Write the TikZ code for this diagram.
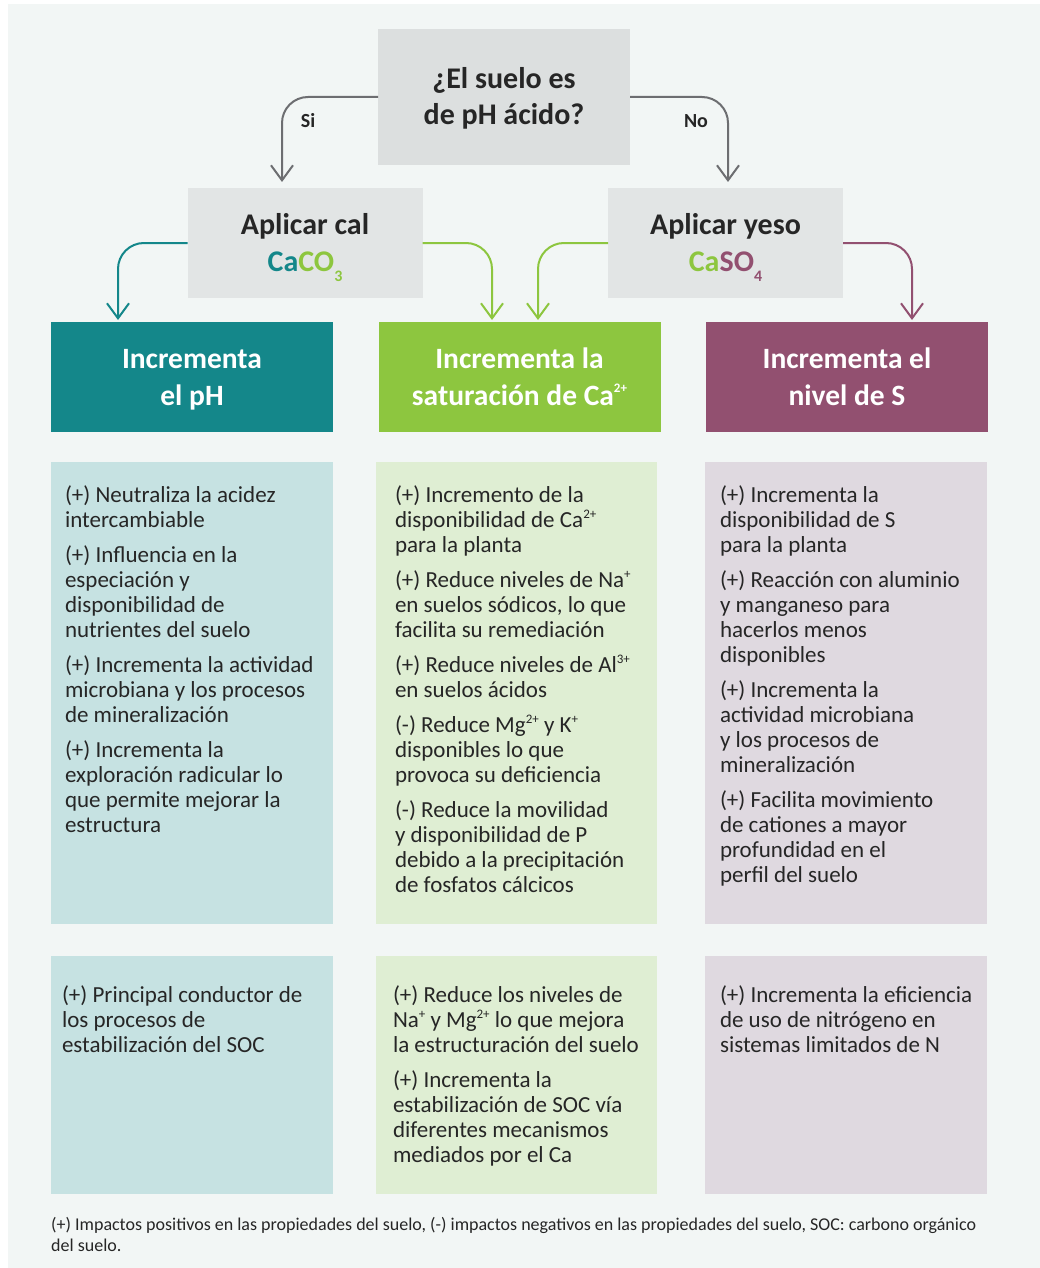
\documentclass[tikz,border=0pt]{standalone}
\usepackage{fontspec}
\setmainfont{Carlito}
\usetikzlibrary{arrows.meta}

\definecolor{pagebg}{HTML}{F2F6F5}
\definecolor{qgray}{HTML}{DCDFDF}
\definecolor{agray}{HTML}{E2E5E5}
\definecolor{tealc}{HTML}{14878A}
\definecolor{greenc}{HTML}{8DC63F}
\definecolor{purplec}{HTML}{925070}
\definecolor{tealL}{HTML}{C6E2E2}
\definecolor{greenL}{HTML}{DFEED3}
\definecolor{purpleL}{HTML}{DFD9E0}
\definecolor{inkc}{HTML}{262626}
\definecolor{arrowgray}{HTML}{6D6E71}

\newcommand{\sps}[1]{\raisebox{0.42em}{\fontsize{13}{13}\selectfont #1}}
\newcommand{\sbs}[1]{\raisebox{-10pt}{\fontsize{16}{16}\selectfont #1}}

\begin{document}
\begin{tikzpicture}[x=1pt,y=-1pt,
  boxbase/.style={rectangle, inner sep=0pt, outer sep=0pt},
  qbox/.style={boxbase, fill=qgray, minimum width=252pt, minimum height=136pt,
    text=inkc, align=center, font=\bfseries\fontsize{30}{36}\selectfont,
    text height=58.5pt, text depth=2.5pt},
  abox/.style={boxbase, fill=agray, minimum width=235pt, minimum height=110pt,
    text=inkc, align=center, font=\bfseries\fontsize{30}{37}\selectfont,
    text height=66pt, text depth=10pt},
  hbox/.style={boxbase, minimum width=282pt, minimum height=110pt,
    text=white, align=center, font=\bfseries\fontsize{29.5}{37}\selectfont,
    text height=62pt, text depth=6pt},
  panel/.style={boxbase, minimum width=282pt},
  itemtext/.style={inner sep=0pt, outer sep=0pt, anchor=north west, align=left,
    text=inkc, font=\fontsize{23}{25}\selectfont},
  flow/.style={line width=2pt, rounded corners=26pt,
    -{Straight Barb[length=15pt, width=22pt, line width=2pt]}},
  branch/.style={text=inkc, font=\bfseries\fontsize{20}{24}\selectfont, inner sep=0pt}
]
\useasboundingbox (0,0) rectangle (1040,1268);
\fill[pagebg] (8,4) rectangle (1040,1268);

% decision and treatments
\node[qbox] (q) at (504,97) {¿El suelo es\\de pH ácido?};
\node[abox] (cal) at (305,243) {Aplicar cal\\{\color{tealc}Ca}{\color{greenc}CO\sbs{3}}};
\node[abox] (yeso) at (725.5,243) {Aplicar yeso\\{\color{greenc}Ca}{\color{purplec}SO\sbs{4}}};

% effect headers
\node[hbox, fill=tealc] (h1) at (192,377) {Incrementa\\el pH};
\node[hbox, fill=greenc] (h2) at (519.5,377) {Incrementa la\\saturación de Ca\sps{2+}};
\node[hbox, fill=purplec] (h3) at (847,377) {Incrementa el\\nivel de S};

% detail panels
\node[panel, fill=tealL, minimum height=462pt] (b1) at (192,693) {};
\node[panel, fill=greenL, minimum height=462pt, minimum width=281pt] (b2) at (516.5,693) {};
\node[panel, fill=purpleL, minimum height=462pt] (b3) at (846,693) {};
\node[panel, fill=tealL, minimum height=238pt] (c1) at (192,1075) {};
\node[panel, fill=greenL, minimum height=238pt, minimum width=281pt] (c2) at (516.5,1075) {};
\node[panel, fill=purpleL, minimum height=238pt] (c3) at (846,1075) {};

% connectors
\draw[flow, arrowgray] (q.west) -| ([xshift=-23pt,yshift=6pt]cal.north);
\draw[flow, arrowgray] (q.east) -| ([xshift=2.5pt,yshift=6pt]yeso.north);
\draw[flow, tealc] (cal.west) -| ([xshift=-74pt,yshift=2pt]h1.north);
\draw[flow, greenc] (cal.east) -| ([xshift=-27.5pt,yshift=2pt]h2.north);
\draw[flow, greenc] (yeso.west) -| ([xshift=18.5pt,yshift=2pt]h2.north);
\draw[flow, purplec] (yeso.east) -| ([xshift=65pt,yshift=2pt]h3.north);

\node[branch] (si) at (308,121) {Si};
\node[branch] (no) at (696,121) {No};

% panel texts
\node[itemtext] (t1) at ([xshift=14pt,yshift=-24pt]b1.north west) {%
(+) Neutraliza la acidez\\ intercambiable\\[10pt]
(+) Influencia en la\\ especiación y\\ disponibilidad de\\ nutrientes del suelo\\[10pt]
(+) Incrementa la actividad\\ microbiana y los procesos\\ de mineralización\\[10pt]
(+) Incrementa la\\ exploración radicular lo\\ que permite mejorar la\\ estructura};

\node[itemtext] (t2) at ([xshift=19pt,yshift=-24pt]b2.north west) {%
(+) Incremento de la\\ disponibilidad de Ca\sps{2+}\\ para la planta\\[10pt]
(+) Reduce niveles de Na\sps{+}\\ en suelos sódicos, lo que\\ facilita su remediación\\[10pt]
(+) Reduce niveles de Al\sps{3+}\\ en suelos ácidos\\[10pt]
(-) Reduce Mg\sps{2+} y K\sps{+}\\ disponibles lo que\\ provoca su deficiencia\\[10pt]
(-) Reduce la movilidad\\ y disponibilidad de P\\ debido a la precipitación\\ de fosfatos cálcicos};

\node[itemtext] (t3) at ([xshift=15pt,yshift=-24pt]b3.north west) {%
(+) Incrementa la\\ disponibilidad de S\\ para la planta\\[10pt]
(+) Reacción con aluminio\\ y manganeso para\\ hacerlos menos\\ disponibles\\[10pt]
(+) Incrementa la\\ actividad microbiana\\ y los procesos de\\ mineralización\\[10pt]
(+) Facilita movimiento\\ de cationes a mayor\\ profundidad en el\\ perfil del suelo};

\node[itemtext] (u1) at ([xshift=11pt,yshift=-30pt]c1.north west) {%
(+) Principal conductor de\\ los procesos de\\ estabilización del SOC};

\node[itemtext] (u2) at ([xshift=17pt,yshift=-30pt]c2.north west) {%
(+) Reduce los niveles de\\ Na\sps{+} y Mg\sps{2+} lo que mejora\\ la estructuración del suelo\\[10pt]
(+) Incrementa la\\ estabilización de SOC vía\\ diferentes mecanismos\\ mediados por el Ca};

\node[itemtext] (u3) at ([xshift=15pt,yshift=-30pt]c3.north west) {%
(+) Incrementa la eficiencia\\ de uso de nitrógeno en\\ sistemas limitados de N};

% footnote
\node[inner sep=0pt, anchor=north west, align=left, text=inkc,
  font=\fontsize{18}{21}\selectfont] (note) at ([yshift=-23pt]c1.south west) {%
(+) Impactos positivos en las propiedades del suelo, (-) impactos negativos en las propiedades del suelo, SOC: carbono orgánico\\ del suelo.};
\end{tikzpicture}
\end{document}
